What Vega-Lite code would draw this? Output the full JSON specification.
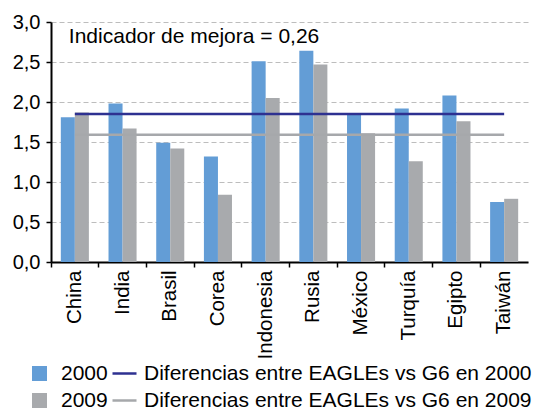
{
  "$schema": "https://vega.github.io/schema/vega-lite/v6.json",
  "width": 477,
  "height": 240,
  "autosize": {"type": "none"},
  "padding": {"left": 51, "top": 22, "right": 19, "bottom": 147},
  "background": "white",
  "config": {
    "font": "Liberation Sans",
    "view": {"stroke": null},
    "axis": {"labelColor": "black", "domainColor": "black", "tickColor": "black", "labelFont": "Liberation Sans"},
    "axisY": {
      "title": null, "tickCount": 7, "labelOverlap": false,
      "labelExpr": "replace(format(datum.value, '.1f'), '.', ',')",
      "labelFontSize": 20, "labelPadding": 6, "tickSize": 5, "tickWidth": 1.5,
      "domainWidth": 2, "grid": true, "gridDash": [5, 3], "gridColor": "#BDBDBD", "gridWidth": 1
    },
    "legend": {"labelFont": "Liberation Sans", "labelColor": "black"}
  },
  "datasets": {
    "bars": [
      {"pais": "China", "anio": "2000", "valor": 1.81},
      {"pais": "China", "anio": "2009", "valor": 1.87},
      {"pais": "India", "anio": "2000", "valor": 1.98},
      {"pais": "India", "anio": "2009", "valor": 1.67},
      {"pais": "Brasil", "anio": "2000", "valor": 1.49},
      {"pais": "Brasil", "anio": "2009", "valor": 1.42},
      {"pais": "Corea", "anio": "2000", "valor": 1.32},
      {"pais": "Corea", "anio": "2009", "valor": 0.84},
      {"pais": "Indonesia", "anio": "2000", "valor": 2.51},
      {"pais": "Indonesia", "anio": "2009", "valor": 2.05},
      {"pais": "Rusia", "anio": "2000", "valor": 2.64},
      {"pais": "Rusia", "anio": "2009", "valor": 2.47},
      {"pais": "México", "anio": "2000", "valor": 1.85},
      {"pais": "México", "anio": "2009", "valor": 1.61},
      {"pais": "Turquía", "anio": "2000", "valor": 1.92},
      {"pais": "Turquía", "anio": "2009", "valor": 1.26},
      {"pais": "Egipto", "anio": "2000", "valor": 2.08},
      {"pais": "Egipto", "anio": "2009", "valor": 1.76},
      {"pais": "Taiwán", "anio": "2000", "valor": 0.75},
      {"pais": "Taiwán", "anio": "2009", "valor": 0.79}
    ],
    "lines": [
      {"pais": "China", "serie": "Diferencias entre EAGLEs vs G6 en 2000", "valor": 1.85},
      {"pais": "India", "serie": "Diferencias entre EAGLEs vs G6 en 2000", "valor": 1.85},
      {"pais": "Brasil", "serie": "Diferencias entre EAGLEs vs G6 en 2000", "valor": 1.85},
      {"pais": "Corea", "serie": "Diferencias entre EAGLEs vs G6 en 2000", "valor": 1.85},
      {"pais": "Indonesia", "serie": "Diferencias entre EAGLEs vs G6 en 2000", "valor": 1.85},
      {"pais": "Rusia", "serie": "Diferencias entre EAGLEs vs G6 en 2000", "valor": 1.85},
      {"pais": "México", "serie": "Diferencias entre EAGLEs vs G6 en 2000", "valor": 1.85},
      {"pais": "Turquía", "serie": "Diferencias entre EAGLEs vs G6 en 2000", "valor": 1.85},
      {"pais": "Egipto", "serie": "Diferencias entre EAGLEs vs G6 en 2000", "valor": 1.85},
      {"pais": "Taiwán", "serie": "Diferencias entre EAGLEs vs G6 en 2000", "valor": 1.85},
      {"pais": "China", "serie": "Diferencias entre EAGLEs vs G6 en 2009", "valor": 1.59},
      {"pais": "India", "serie": "Diferencias entre EAGLEs vs G6 en 2009", "valor": 1.59},
      {"pais": "Brasil", "serie": "Diferencias entre EAGLEs vs G6 en 2009", "valor": 1.59},
      {"pais": "Corea", "serie": "Diferencias entre EAGLEs vs G6 en 2009", "valor": 1.59},
      {"pais": "Indonesia", "serie": "Diferencias entre EAGLEs vs G6 en 2009", "valor": 1.59},
      {"pais": "Rusia", "serie": "Diferencias entre EAGLEs vs G6 en 2009", "valor": 1.59},
      {"pais": "México", "serie": "Diferencias entre EAGLEs vs G6 en 2009", "valor": 1.59},
      {"pais": "Turquía", "serie": "Diferencias entre EAGLEs vs G6 en 2009", "valor": 1.59},
      {"pais": "Egipto", "serie": "Diferencias entre EAGLEs vs G6 en 2009", "valor": 1.59},
      {"pais": "Taiwán", "serie": "Diferencias entre EAGLEs vs G6 en 2009", "valor": 1.59}
    ],
    "note": [{"label": "Indicador de mejora = 0,26"}]
  },
  "layer": [
    {
      "data": {"name": "bars"},
      "mark": {"type": "bar"},
      "encoding": {
        "x": {
          "field": "pais", "type": "nominal", "sort": null,
          "scale": {"paddingInner": 0, "paddingOuter": 0},
          "axis": {
            "title": null, "labelAngle": 270, "labelAlign": "right", "labelBaseline": "middle",
            "labelFontSize": 20.5, "labelPadding": 3, "tickSize": 5, "tickWidth": 1.5,
            "domainWidth": 2, "bandPosition": 0, "grid": false
          }
        },
        "xOffset": {"field": "anio", "type": "nominal", "scale": {"paddingInner": 0, "paddingOuter": 0.7}},
        "y": {
          "field": "valor", "type": "quantitative",
          "scale": {"domain": [0, 3], "nice": false},
          "axis": {"values": [0, 0.5, 1, 1.5, 2, 2.5, 3]}
        },
        "fill": {
          "field": "anio", "type": "nominal",
          "scale": {"domain": ["2000", "2009"], "range": ["#639DD6", "#A8AAAD"]},
          "legend": {
            "title": null, "orient": "none", "legendX": -22, "legendY": 340.5, "direction": "vertical",
            "symbolType": "square", "symbolSize": 225, "symbolStrokeWidth": 0, "clipHeight": 22,
            "labelFontSize": 21, "labelOffset": 11, "rowPadding": 5, "padding": 0
          }
        }
      }
    },
    {
      "data": {"name": "lines"},
      "mark": {"type": "line", "strokeWidth": 2.5},
      "encoding": {
        "x": {"field": "pais", "type": "nominal", "sort": null},
        "y": {"field": "valor", "type": "quantitative", "axis": {"values": [0, 0.5, 1, 1.5, 2, 2.5, 3]}},
        "stroke": {
          "field": "serie", "type": "nominal",
          "scale": {"range": ["#2E3191", "#A6A8AB"]},
          "legend": {
            "title": null, "orient": "none", "legendX": 60, "legendY": 340.5, "direction": "vertical",
            "symbolType": "stroke", "symbolSize": 576, "symbolStrokeWidth": 2.5, "clipHeight": 22,
            "labelFontSize": 21, "labelOffset": 6, "rowPadding": 5, "padding": 0, "labelLimit": 600
          }
        }
      }
    },
    {
      "data": {"name": "note"},
      "mark": {"type": "text", "align": "left", "baseline": "alphabetic", "dx": -6, "fontSize": 21, "color": "black"},
      "encoding": {
        "x": {"datum": "China", "type": "nominal"},
        "y": {"datum": 2.74, "type": "quantitative", "axis": {"values": [0, 0.5, 1, 1.5, 2, 2.5, 3]}},
        "text": {"field": "label"}
      }
    }
  ]
}
